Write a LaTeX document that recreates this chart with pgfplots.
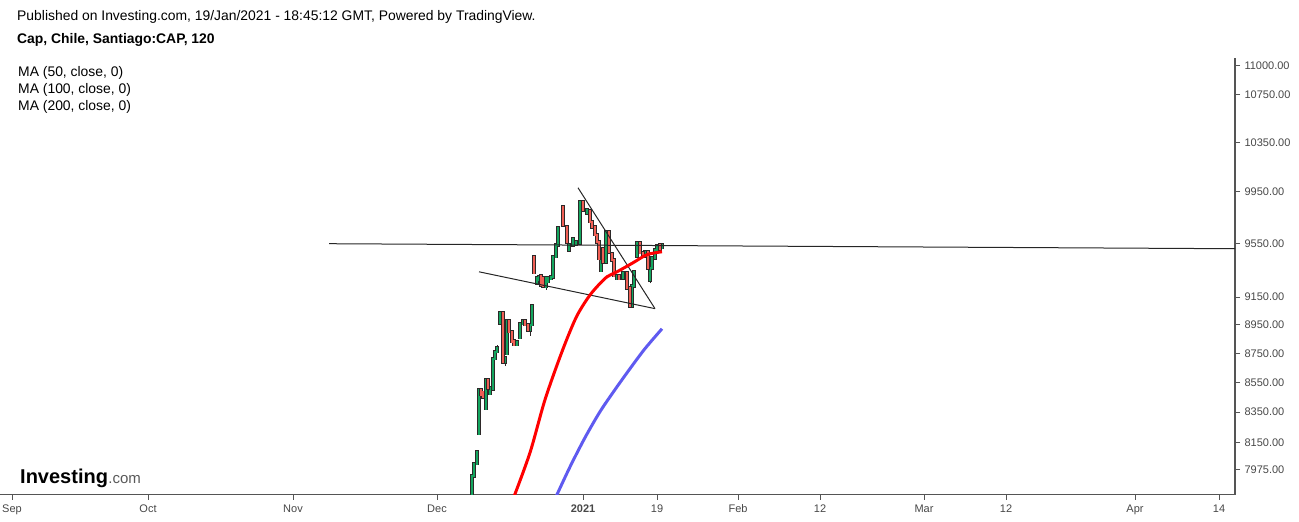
\documentclass[border=0pt]{standalone}
\usepackage{fontspec}
\setmainfont{Liberation Sans}
\usepackage{pgfplots}
\pgfplotsset{compat=1.18}
\usepackage{pgfplotstable}
\definecolor{upfill}{RGB}{20,165,95}
\definecolor{dnfill}{RGB}{240,95,85}
\definecolor{edge}{RGB}{45,40,40}
\definecolor{ma50}{RGB}{255,0,0}
\definecolor{ma100}{RGB}{95,90,240}
\definecolor{axisgray}{RGB}{85,85,85}

% green (up) candle bodies: x, bottom, top, separated by nan
\pgfplotstableread{
x y
472 7790
472 7937
472 nan
474 7937
474 8013
474 nan
477 8013
477 8090
477 nan
479 8207
479 8500
479 nan
486 8372
486 8567
486 nan
490 8473
490 8513
490 nan
493 8506
493 8712
493 nan
495 8712
495 8761
495 nan
497 8761
497 8789
497 nan
500 8965
500 9037
500 nan
505 8691
505 8719
505 nan
507 8747
507 8979
507 nan
517 8810
517 8831
517 nan
520 8859
520 8958
520 nan
523 8958
523 8979
523 nan
530 8915
530 8951
530 nan
532 8951
532 9087
532 nan
537 9255
537 9292
537 nan
539 9277
539 9299
539 nan
546 9226
546 9292
546 nan
548 9263
548 9292
548 nan
551 9285
551 9299
551 nan
553 9299
553 9449
553 nan
556 9449
556 9539
556 nan
558 9539
558 9669
558 nan
569 9501
569 9539
569 nan
573 9539
573 9585
573 nan
576 9545
576 9560
576 nan
580 9554
580 9871
580 nan
587 9785
587 9809
587 nan
601 9344
601 9509
601 nan
606 9411
606 9639
606 nan
617 9285
617 9307
617 nan
623 9292
623 9329
623 nan
632 9087
632 9233
632 nan
634 9233
634 9336
634 nan
637 9456
637 9554
637 nan
645 9456
645 9486
645 nan
650 9277
650 9366
650 nan
652 9366
652 9441
652 nan
655 9441
655 9501
655 nan
657 9501
657 9532
657 nan
662 9517
662 9539
662 nan
}\greenbody

% red (down) candle bodies
\pgfplotstableread{
x y
481 8466
481 8500
481 nan
483 8452
483 8480
483 nan
488 8513
488 8567
488 nan
503 8691
503 9037
503 nan
509 8901
509 8979
509 nan
512 8831
512 8901
512 nan
514 8810
514 8838
514 nan
525 8951
525 8979
525 nan
528 8915
528 8951
528 nan
534 9329
534 9449
534 nan
541 9240
541 9307
541 nan
543 9233
543 9292
543 nan
563 9692
563 9832
563 nan
567 9562
567 9677
567 nan
583 9809
583 9871
583 nan
590 9716
590 9800
590 nan
592 9677
592 9716
592 nan
595 9616
595 9677
595 nan
597 9562
597 9616
597 nan
599 9434
599 9562
599 nan
603 9411
603 9509
603 nan
609 9486
609 9639
609 nan
612 9426
612 9471
612 nan
614 9307
614 9426
614 nan
619 9285
619 9307
619 nan
627 9218
627 9329
627 nan
630 9087
630 9218
630 nan
640 9479
640 9554
640 nan
643 9456
643 9479
643 nan
648 9366
648 9486
648 nan
660 9509
660 9539
660 nan
}\redbody

% wicks
\pgfplotstableread{
x y
497 8789
497 8810
497 nan
505 8660
505 8691
505 nan
530 8873
530 8915
530 nan
546 9204
546 9226
546 nan
650 9250
650 9277
650 nan
}\wicks

\begin{document}
\begin{tikzpicture}
\useasboundingbox (0bp,0bp) rectangle (1299bp,522bp);
\begin{axis}[
  at={(0bp,27bp)}, anchor=south west,
  scale only axis, width=1235bp, height=437bp,
  xmin=0, xmax=1235,
  ymode=log, ymin=7818, ymax=11070,
  axis x line*=bottom, axis y line*=right,
  axis line style={-, draw=axisgray, line width=1.2bp},
  xtick={12,148,293,437,583,657,738,820,924,1006,1135,1219},
  xticklabels={Sep,Oct,Nov,Dec,\textbf{2021},19,Feb,12,Mar,12,Apr,14},
  ytick={7975,8150,8350,8550,8750,8950,9150,9550,9950,10350,10750,11000},
  yticklabels={7975.00,8150.00,8350.00,8550.00,8750.00,8950.00,9150.00,9550.00,9950.00,10350.00,10750.00,11000.00},
  minor y tick num=0, minor x tick num=0,
  tick align=outside, major tick length=5bp,
  tick style={draw=axisgray, line width=0.8bp},
  ticklabel style={font=\fontsize{11bp}{13bp}\selectfont, text=black!72},
  xticklabel style={yshift=-1.5bp},
  yticklabel style={xshift=1bp},
  unbounded coords=jump,
  clip=true,
]
\addplot[draw=edge, line width=0.8bp, no markers] table {\wicks};
\addplot[draw=edge, line width=3.6bp, line cap=rect, no markers] table {\greenbody};
\addplot[draw=upfill, line width=2.2bp, line cap=rect, no markers] table {\greenbody};
\addplot[draw=edge, line width=3.6bp, line cap=rect, no markers] table {\redbody};
\addplot[draw=dnfill, line width=2.2bp, line cap=rect, no markers] table {\redbody};
% horizontal level line
\addplot[draw=black!85, line width=1bp, no markers] coordinates {(329,9547) (1235,9509)};
% triangle trendlines
\addplot[draw=black!85, line width=1bp, no markers] coordinates {(578,9982) (655,9066)};
\addplot[draw=black!85, line width=1bp, no markers] coordinates {(479,9336) (655,9066)};
% MA 50 (red)
\addplot[draw=ma50, line width=3bp, no markers, smooth] coordinates {
 (513,7790) (530,8084) (545,8432) (562,8761) (576,9001) (588,9145)
 (597,9226) (607,9299) (617,9336) (633,9403) (647,9464) (662,9486)};
% MA 100 (blue)
\addplot[draw=ma100, line width=3bp, no markers, smooth] coordinates {
 (556,7806) (570,7994) (585,8181) (600,8352) (615,8500) (630,8643)
 (645,8782) (662,8922)};
\end{axis}
\node[anchor=west, inner sep=0pt, font=\fontsize{13.9bp}{16bp}\selectfont] at (17bp,505bp)
  {Published on Investing.com, 19/Jan/2021 - 18:45:12 GMT, Powered by TradingView.};
\node[anchor=west, inner sep=0pt, font=\bfseries\fontsize{13.9bp}{16bp}\selectfont] at (17bp,482bp)
  {Cap, Chile, Santiago:CAP, 120};
\node[anchor=west, inner sep=0pt, font=\fontsize{13.9bp}{16bp}\selectfont] at (18bp,449bp) {MA (50, close, 0)};
\node[anchor=west, inner sep=0pt, font=\fontsize{13.9bp}{16bp}\selectfont] at (18bp,432bp) {MA (100, close, 0)};
\node[anchor=west, inner sep=0pt, font=\fontsize{13.9bp}{16bp}\selectfont] at (18bp,415bp) {MA (200, close, 0)};
\node[anchor=base west, inner sep=0pt, font=\bfseries\fontsize{20bp}{22bp}\selectfont] (inv) at (20bp,39bp) {Investing};
\node[anchor=base west, inner sep=0pt, font=\fontsize{15bp}{17bp}\selectfont, text=black!65] at (inv.base east) {.com};
\end{tikzpicture}
\end{document}
